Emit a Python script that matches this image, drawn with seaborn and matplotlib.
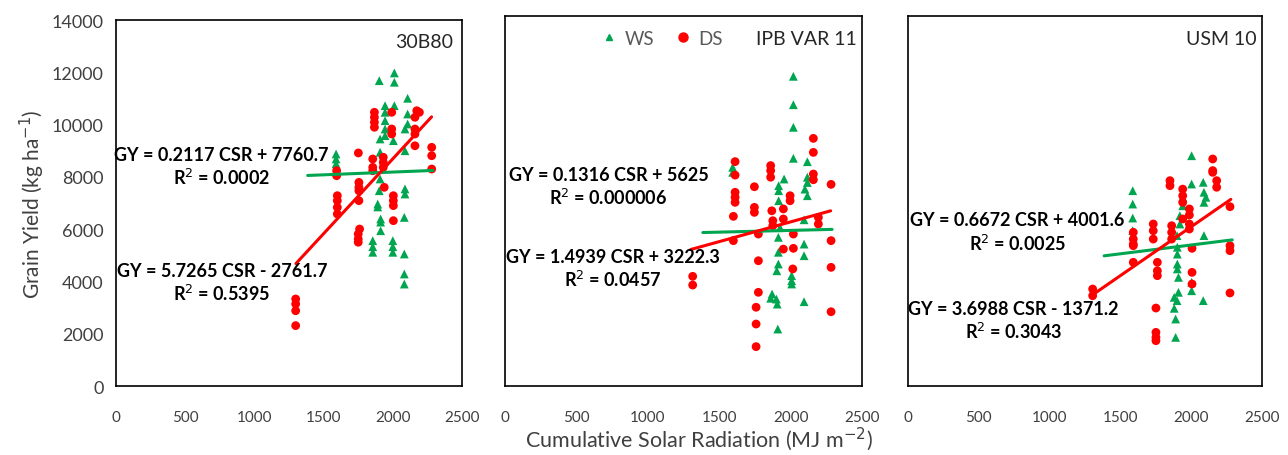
import numpy as np
import pandas as pd
import matplotlib
matplotlib.use("Agg")
import matplotlib.pyplot as plt
from matplotlib.lines import Line2D
import seaborn as sns

sns.set_theme(style="white")
plt.rcParams['font.family'] = ['Lato', 'DejaVu Sans']

# ---------------- data ----------------
panel_names = ["30B80", "IPB VAR 11", "USM 10"]

p1_ws_x = [1902, 2011, 2011, 2107, 1944, 2011, 1944, 1944, 1944, 1944, 2107, 2107, 2088, 1908, 2004,
           1590, 1590, 1590, 1908, 2088, 1908, 2088, 1902, 2088, 1891, 1891, 1912, 1912, 1912, 2083,
           1855, 1855, 1855, 2000, 2000, 2000, 2083, 2083, 2083]
p1_ws_y = [11680, 11975, 11620, 11006, 10723, 10723, 10470, 10150, 9830, 9576, 10405, 10023, 9832, 9450, 9385,
           8875, 8685, 8500, 8940, 9000, 7920, 7540, 7470, 7345, 6960, 6850, 6390, 6270, 5940, 6450,
           5560, 5330, 5115, 5560, 5330, 5115, 5050, 4285, 3900]
p1_ds_x = [1867, 1867, 1867, 1867, 1992, 1992, 1992, 2173, 2192, 2160, 2160, 2160, 2160, 2281, 2281,
           1751, 1855, 1855, 1855, 1931, 1931, 1931, 1594, 1594, 2281, 1755, 1755, 1938, 1599, 1599,
           1599, 1599, 1755, 1755, 2004, 2004, 2004, 2004, 1760, 1750, 1750, 1750, 1298, 1298, 1298, 1298]
p1_ds_y = [10470, 10280, 10088, 9897, 10470, 9832, 9640, 10530, 10470, 10280, 9830, 9640, 9190, 9130, 8810,
           8915, 8685, 8365, 8235, 8750, 8555, 8365, 8235, 8045, 8300, 7790, 7600, 7600, 7280, 7090,
           6835, 6580, 7470, 7090, 7280, 7090, 6900, 6325, 6005, 5815, 5620, 5500, 3330, 3140, 2880, 2310]

p2_ws_x = [2019, 2019, 2019, 2019, 2117, 1594, 1594, 1954, 1916, 1916, 1916, 2117, 2117, 2100, 2117,
           1914, 1914, 1914, 1903, 2094, 2094, 2094, 2007, 2007, 2007, 1870, 1900, 1906, 1860, 2094,
           1910, 1926]
p2_ws_y = [11718, 10643, 9788, 8615, 8487, 8275, 8085, 7832, 7580, 7390, 7010, 7900, 7700, 7450, 7200,
           5625, 5060, 4615, 4360, 5370, 4930, 6290, 4175, 3985, 3860, 3480, 3290, 3100, 3320, 3190,
           2155, 5990]
p2_ds_x = [1611, 1611, 1611, 1611, 1611, 1860, 1860, 1860, 1746, 2159, 2159, 2159, 2159, 2283, 1996,
           1996, 1746, 1599, 1746, 1868, 1949, 1774, 1599, 1875, 1875, 1949, 2019, 1949, 2019, 2194,
           2194, 2283, 2283, 2015, 1774, 1314, 1314, 1774, 1758, 1758, 1758, 2283]
p2_ds_y = [8490, 7980, 7330, 7140, 6950, 8340, 8150, 7900, 7540, 9370, 8840, 8020, 7805, 7630, 7200,
           7010, 6760, 6420, 6570, 6630, 6700, 5750, 5500, 6255, 6065, 6320, 5750, 5180, 5210, 6380,
           6130, 5500, 4490, 4430, 4740, 4150, 3820, 3545, 2980, 2345, 1490, 2810]

p3_ws_x = [2003, 2003, 2085, 2090, 2104, 2090, 1587, 1587, 1587, 1587, 1940, 1940, 1920, 1920, 1900,
           2090, 1902, 1902, 1902, 1902, 1910, 2003, 2003, 1910, 1880, 1900, 1880, 2085, 1890, 1890]
p3_ws_y = [8713, 7643, 7707, 7330, 7140, 6950, 7390, 6885, 6356, 5877, 7140, 6820, 6445, 6130, 5690,
           5690, 5250, 4990, 4615, 4430, 4110, 3925, 3605, 3545, 3355, 3230, 2940, 3230, 2535, 1840]
p3_ds_x = [2152, 2152, 2152, 1850, 1850, 2180, 2180, 1940, 1940, 1940, 1987, 1987, 1987, 1987, 2274,
           1732, 1732, 1732, 1591, 1591, 1591, 1862, 1862, 1862, 1940, 2274, 1591, 1591, 1761, 1761,
           1761, 2006, 2006, 2006, 2274, 2274, 1304, 1304, 1751, 1751, 1751, 1751]
p3_ds_y = [8590, 8150, 8085, 7770, 7580, 7770, 7520, 7450, 7200, 6950, 6700, 6470, 6130, 5940, 6785,
           6130, 5877, 5560, 5815, 5560, 5310, 6065, 5815, 5560, 6320, 5310, 5370, 4680, 4680, 4360,
           4175, 5210, 4300, 3860, 5120, 3520, 3670, 3417, 2950, 2030, 1840, 1715]

# trendline coefficients (slope, intercept) and x extents
ws_slope = [0.2117, 0.1316, 0.6672]
ws_inter = [7760.7, 5625.0, 4001.6]
ds_slope = [5.7265, 1.4939, 3.6988]
ds_inter = [-2761.7, 3222.3, -1371.2]
ws_extent = [1385, 2290]
ds_extent = [1300, 2280]

ws_eq = ["GY = 0.2117 CSR + 7760.7\nR$^2$ = 0.0002",
         "GY = 0.1316 CSR + 5625\nR$^2$ = 0.000006",
         "GY = 0.6672 CSR + 4001.6\nR$^2$ = 0.0025"]
ds_eq = ["GY = 5.7265 CSR - 2761.7\nR$^2$ = 0.5395",
         "GY = 1.4939 CSR + 3222.3\nR$^2$ = 0.0457",
         "GY = 3.6988 CSR - 1371.2\nR$^2$ = 0.3043"]
ws_eq_pos = [(760, 8400), (725, 7550), (770, 5830)]
ds_eq_pos = [(765, 3950), (755, 4450), (745, 2480)]

x_ticks = [0, 500, 1000, 1500, 2000, 2500]
y_ticks = [0, 2000, 4000, 6000, 8000, 10000, 12000, 14000]

GREEN = "#00A550"
RED = "#FF0000"
TXT = "#404040"

series = [(p1_ws_x, p1_ws_y, p1_ds_x, p1_ds_y),
          (p2_ws_x, p2_ws_y, p2_ds_x, p2_ds_y),
          (p3_ws_x, p3_ws_y, p3_ds_x, p3_ds_y)]

fig = plt.figure(figsize=(12.88, 4.56), dpi=100)
rects = [[0.0901, 0.1513, 0.2686, 0.8026],
         [0.3921, 0.1513, 0.2772, 0.8114],
         [0.7050, 0.1513, 0.2748, 0.8114]]

for i, (wx, wy, dx, dy) in enumerate(series):
    ax = fig.add_axes(rects[i])
    df = pd.DataFrame({
        "CSR": list(wx) + list(dx),
        "GY": list(wy) + list(dy),
        "Season": ["WS"] * len(wx) + ["DS"] * len(dx),
    })
    sns.scatterplot(data=df, x="CSR", y="GY", hue="Season", style="Season",
                    palette={"WS": GREEN, "DS": RED}, markers={"WS": "^", "DS": "o"},
                    s=40, linewidth=0, ax=ax, legend=False, zorder=3)
    xw = np.array(ws_extent, dtype=float)
    xd = np.array(ds_extent, dtype=float)
    ax.plot(xw, ws_slope[i] * xw + ws_inter[i], color=GREEN, lw=2.2, zorder=4)
    ax.plot(xd, ds_slope[i] * xd + ds_inter[i], color=RED, lw=2.2, zorder=4)

    ax.set_xlim(0, 2500)
    ax.set_ylim(0, 14000)
    ax.set_xticks(x_ticks)
    ax.set_xticklabels([str(t) for t in x_ticks], color=TXT, fontsize=11)
    ax.tick_params(axis="x", direction="out", length=6, width=1.2, pad=11, color="black")
    if i == 0:
        ax.set_yticks(y_ticks)
        ax.set_yticklabels([str(t) for t in y_ticks], color=TXT, fontsize=13)
        ax.tick_params(axis="y", direction="out", length=6, width=1.2, pad=3, color="black")
        ax.set_ylabel("Grain Yield (kg ha$^{-1}$)", fontsize=15, color=TXT, labelpad=3)
    else:
        ax.set_yticks([])
        ax.set_ylabel("")
    ax.set_xlabel("")
    for sp in ax.spines.values():
        sp.set_color("black")
        sp.set_linewidth(1.2)

    ax.text(*ws_eq_pos[i], ws_eq[i], ha="center", va="center", fontsize=13,
            fontweight="bold", color="black", linespacing=1.25, clip_on=False, zorder=5)
    ax.text(*ds_eq_pos[i], ds_eq[i], ha="center", va="center", fontsize=13,
            fontweight="bold", color="black", linespacing=1.25, clip_on=False, zorder=5)
    ax.text(0.975 if i == 0 else 0.985, 0.94, panel_names[i], transform=ax.transAxes,
            ha="right", va="center", fontsize=14, color="#262626")

    if i == 1:
        handles = [Line2D([], [], marker="^", color=GREEN, ls="", markersize=5),
                   Line2D([], [], marker="o", color=RED, ls="", markersize=6.5)]
        leg = ax.legend(handles, ["WS", "DS"], loc="center", bbox_to_anchor=(0.435, 0.94),
                        ncol=2, frameon=False, fontsize=13.5, handletextpad=0.25,
                        columnspacing=0.9, handlelength=1.2)
        for t in leg.get_texts():
            t.set_color("#595959")

fig.text(0.543, 0.006, "Cumulative Solar Radiation (MJ m$^{-2}$)", ha="center", va="bottom",
         fontsize=15.5, color=TXT)

fig.savefig("out.png", dpi=100)
